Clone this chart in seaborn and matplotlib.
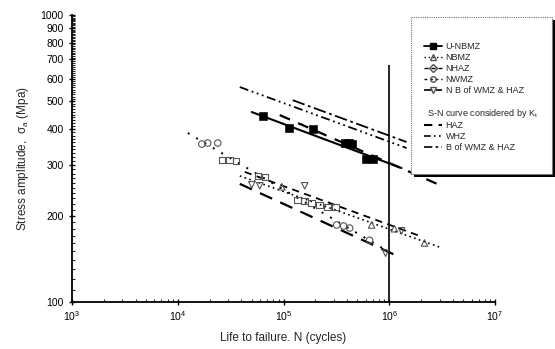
import matplotlib
matplotlib.use("Agg")
import matplotlib.pyplot as plt
import matplotlib.ticker as mticker
from matplotlib.lines import Line2D
from matplotlib.patches import Rectangle
import seaborn as sns

# --- data (N in cycles, S in MPa) ---
# unnotched base metal
u_nbmz_n = [63600, 112000, 188700, 378400, 412700, 440600, 597300, 695600]
u_nbmz_s = [445, 404, 401, 358, 358, 355, 315, 315]
u_nbmz_fit_n = [50100, 1.306e6]
u_nbmz_fit_s = [459, 293]

# notched specimens
nbmz_n = [96200, 680600, 1.12e6, 2.154e6]
nbmz_s = [252, 185.5, 180, 160.6]
nbmz_fit_n = [38600, 2.985e6]
nbmz_fit_s = [275, 155.4]

nhaz_n = [26100, 31000, 35400, 57100, 66500, 136200, 158600, 184600, 219700, 261500, 311100]
nhaz_s = [313, 313, 310, 275, 273, 227, 225, 221, 218, 214.5, 214]
nhaz_fit_n = [43000, 1.932e6]
nhaz_fit_s = [284, 170]

nwmz_n = [16900, 19200, 23900, 318000, 370300, 421900, 651600]
nwmz_s = [355, 358, 358, 185.5, 184, 181, 164]
nwmz_fit_n = [12450, 1.006e6]
nwmz_fit_s = [388, 149]

nb_n = [50100, 59600, 158600, 922800, 1.306e6]
nb_s = [256, 254, 254, 148, 177]
nb_fit_n = [38600, 1.251e6]
nb_fit_s = [258, 143.5]

# S-N curves considered by Kt
haz_kt_n = [92100, 3.12e6]
haz_kt_s = [448, 254]
whz_kt_n = [38600, 1.457e6]
whz_kt_s = [561, 344]
b_kt_n = [122100, 1.457e6]
b_kt_s = [505, 361]

y_ticks = [100, 200, 300, 400, 500, 600, 700, 800, 900, 1000]

sns.set_style("ticks")
plt.rcParams["font.family"] = ["Liberation Sans", "DejaVu Sans"]
plt.rcParams["mathtext.fontset"] = "custom"
plt.rcParams["mathtext.rm"] = "Liberation Sans"
plt.rcParams["mathtext.it"] = "Liberation Sans:italic"

fig = plt.figure(figsize=(5.55, 3.49), dpi=100)
ax = fig.add_axes([72 / 555, 1 - 302 / 349, 423 / 555, 287 / 349])

LS_WHZ = (0, (5, 2, 1, 2, 1, 2, 1, 2))
LS_B = (0, (7, 2, 1.5, 2))
LS_HAZ = (0, (5, 4))

def fit_line(n, s, ls, lw=1.4, color="black"):
    sns.lineplot(x=n, y=s, ax=ax, color=color, linestyle=ls, linewidth=lw,
                 sort=False, estimator=None, legend=False)

# vertical reference at 1e6 cycles
ax.vlines(1e6, 100, 670, color="black", linewidth=1.2)

# upper group
fit_line(u_nbmz_fit_n, u_nbmz_fit_s, "-", lw=1.5)
fit_line(haz_kt_n, haz_kt_s, LS_HAZ, lw=1.6)
fit_line(whz_kt_n, whz_kt_s, LS_WHZ, lw=1.3)
fit_line(b_kt_n, b_kt_s, LS_B, lw=1.3)
sns.scatterplot(x=u_nbmz_n, y=u_nbmz_s, ax=ax, marker="s", s=30, color="black",
                edgecolor="black", legend=False, zorder=5)

# lower group
fit_line(nwmz_fit_n, nwmz_fit_s, (0, (1, 4)), lw=1.4)
fit_line(nbmz_fit_n, nbmz_fit_s, (0, (1, 2)), lw=1.2)
fit_line(nhaz_fit_n, nhaz_fit_s, (0, (4, 3)), lw=1.3)
fit_line(nb_fit_n, nb_fit_s, (0, (6, 4)), lw=1.6)

mk = dict(ax=ax, s=22, facecolor="none", edgecolor="#555555", linewidth=0.8,
          legend=False, zorder=4)
sns.scatterplot(x=nbmz_n, y=nbmz_s, marker="^", **mk)
sns.scatterplot(x=nhaz_n, y=nhaz_s, marker="s", **mk)
sns.scatterplot(x=nwmz_n, y=nwmz_s, marker="o", **mk)
sns.scatterplot(x=nb_n, y=nb_s, marker="v", **mk)

ax.set_xscale("log")
ax.set_yscale("log")
ax.set_xlim(1e3, 1e7)
ax.set_ylim(100, 1000)
ax.yaxis.set_major_locator(mticker.FixedLocator(y_ticks))
ax.yaxis.set_major_formatter(mticker.FixedFormatter([str(v) for v in y_ticks]))
ax.yaxis.set_minor_locator(mticker.FixedLocator(range(110, 1000, 10)))
ax.yaxis.set_minor_formatter(mticker.NullFormatter())
ax.xaxis.set_major_locator(mticker.LogLocator(base=10, numticks=10))
ax.xaxis.set_minor_locator(mticker.LogLocator(base=10, subs=range(2, 10), numticks=20))
ax.tick_params(which="major", direction="inout", length=5, width=1, labelsize=7.5, colors="black")
ax.tick_params(which="minor", direction="in", length=2.5, width=0.8)
ax.tick_params(axis="x", which="major", pad=3)
sns.despine(ax=ax)
for sp in ("left", "bottom"):
    ax.spines[sp].set_color("black")
    ax.spines[sp].set_linewidth(1.3)

ax.set_xlabel("Life to failure. N (cycles)", fontsize=8.5, labelpad=6)
ax.set_ylabel("Stress amplitude,  \u03c3$_a$ (Mpa)", fontsize=8.5, labelpad=7)

# legend box with shadow
shadow = Rectangle((414 / 555, 1 - 177 / 349), 141 / 555, 157 / 349, transform=fig.transFigure,
                   facecolor="black", edgecolor="none", zorder=8)
box = Rectangle((411 / 555, 1 - 174 / 349), 141 / 555, 157 / 349, transform=fig.transFigure,
                facecolor="white", edgecolor="#777777", linestyle=(0, (1, 1)), linewidth=0.8,
                zorder=9)
fig.patches.extend([shadow, box])

lk = dict(color="black", markerfacecolor="none", markeredgecolor="#555555", markersize=4)
data_handles = [
    Line2D([], [], color="black", linestyle="-", marker="s", markersize=4.5, linewidth=1.3),
    Line2D([], [], linestyle=(0, (1, 2)), marker="^", linewidth=1, **lk),
    Line2D([], [], linestyle=(0, (3, 2)), marker="D", linewidth=1, **lk),
    Line2D([], [], linestyle=(0, (2, 2)), marker="o", linewidth=1, **lk),
    Line2D([], [], linestyle=(0, (5, 2)), marker="v", linewidth=1.2, **lk),
]
data_labels = ["U-NBMZ", "NBMZ", "NHAZ", "NWMZ", "N B of WMZ & HAZ"]
kt_handles = [
    Line2D([], [], color="black", linestyle=(0, (4, 3)), linewidth=1.5),
    Line2D([], [], color="black", linestyle=(0, (4, 2, 1, 2, 1, 2)), linewidth=1.2),
    Line2D([], [], color="black", linestyle=(0, (5, 2, 1.5, 2)), linewidth=1.2),
]
kt_labels = ["HAZ", "WHZ", "B of WMZ & HAZ"]

leg_kw = dict(loc="upper left", frameon=False, fontsize=6.5, borderpad=0, labelspacing=0.22,
              handlelength=2.0, handletextpad=0.4, borderaxespad=0)
leg1 = fig.legend(data_handles, data_labels, bbox_to_anchor=(424 / 555, 1 - 42 / 349), **leg_kw)
leg2 = fig.legend(kt_handles, kt_labels, bbox_to_anchor=(424 / 555, 1 - 121 / 349), **leg_kw)
leg1.set_zorder(10)
leg2.set_zorder(10)
fig.text(427 / 555, 1 - 113 / 349, "S-N curve considered by K$_\\mathrm{t}$", fontsize=6.5,
         va="center", ha="left", zorder=11)

fig.savefig("out.png", dpi=100)
